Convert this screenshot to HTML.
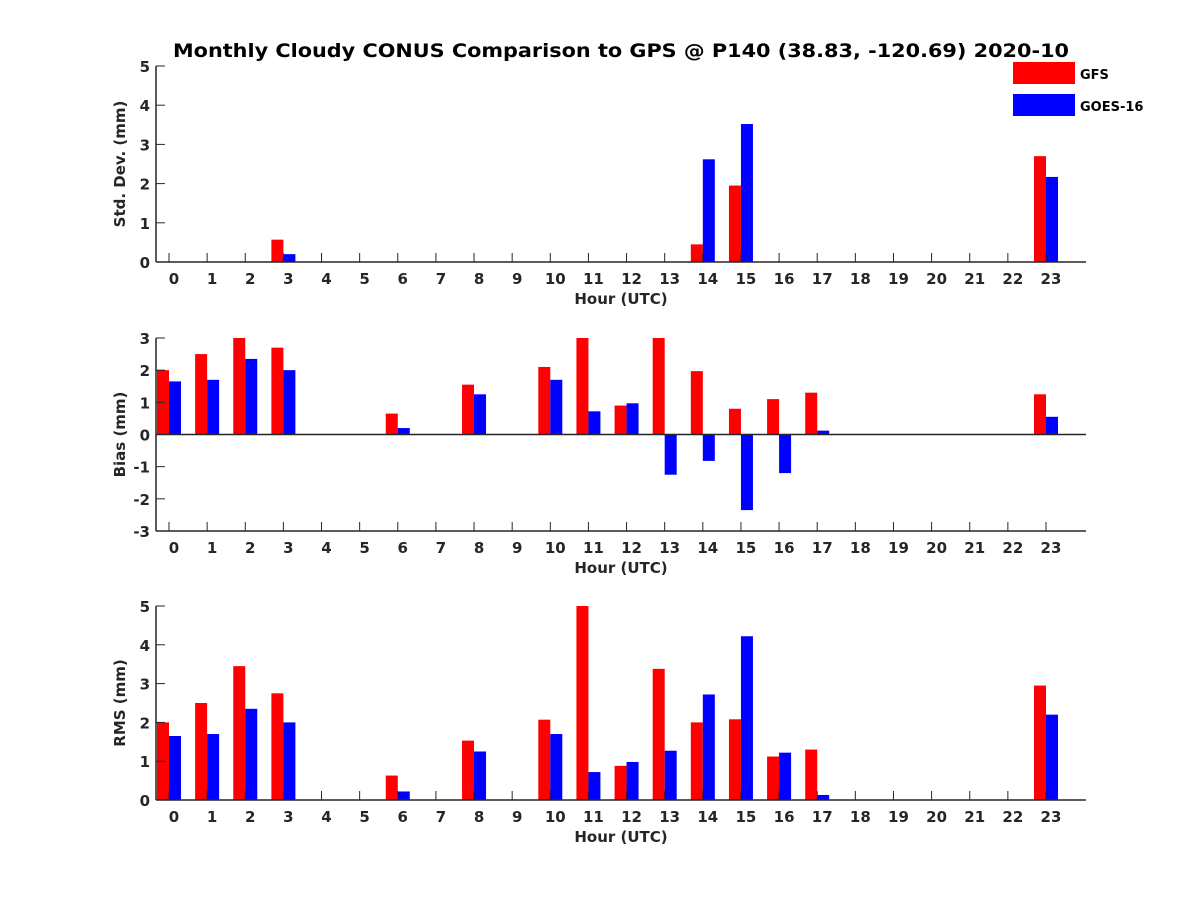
<!DOCTYPE html>
<html><head><meta charset="utf-8"><style>
body{margin:0;background:#fff}
svg text{font-family:"DejaVu Sans","Liberation Sans",sans-serif;font-weight:bold;fill:#262626}
</style></head><body>
<svg id="c" width="1200" height="900" xmlns="http://www.w3.org/2000/svg"></svg>
<script>
const hours=[...Array(24).keys()];
const stdGFS=[0,0,0,0.57,0,0,0,0,0,0,0,0,0,0,0.45,1.95,0,0,0,0,0,0,0,2.7];
const stdGOES=[0,0,0,0.2,0,0,0,0,0,0,0,0,0,0,2.62,3.52,0,0,0,0,0,0,0,2.17];
const biasGFS=[2.0,2.5,3.0,2.7,0,0,0.65,0,1.55,0,2.1,3.0,0.9,3.0,1.97,0.8,1.1,1.3,0,0,0,0,0,1.25];
const biasGOES=[1.65,1.7,2.35,2.0,0,0,0.2,0,1.25,0,1.7,0.72,0.97,-1.25,-0.82,-2.35,-1.2,0.12,0,0,0,0,0,0.55];
const rmsGFS=[2.0,2.5,3.45,2.75,0,0,0.63,0,1.53,0,2.07,5.0,0.88,3.38,2.0,2.08,1.12,1.3,0,0,0,0,0,2.95];
const rmsGOES=[1.65,1.7,2.35,2.0,0,0,0.22,0,1.25,0,1.7,0.72,0.98,1.27,2.72,4.22,1.22,0.13,0,0,0,0,0,2.2];
const stdTicks=[0,1,2,3,4,5], biasTicks=[-3,-2,-1,0,1,2,3], rmsTicks=[0,1,2,3,4,5];
const svg=document.getElementById('c');
const NS='http://www.w3.org/2000/svg';
function el(t,a,p){const e=document.createElementNS(NS,t);for(const k in a)e.setAttribute(k,a[k]);(p||svg).appendChild(e);return e;}
const X0=156,X1=1086;
const xc=h=>169+h*38.13;
function panel(name,top,bot,ymin,ymax,ticks,s1,s2,ylabel){
  const g=el('g',{});
  
  
  const y=v=>bot-(v-ymin)/(ymax-ymin)*(bot-top);
  hours.forEach(h=>{
    [[s1,'#ff0000',-12],[s2,'#0000ff',0]].forEach(([s,c,o],i)=>{
      const v=s[h]; if(!v) return;
      const r=el('rect',{x:xc(h)+o,y:Math.min(y(v),y(0)),width:12,height:Math.abs(y(v)-y(0)),fill:c},g);
      
      
    });
  });
  el('line',{x1:X0,y1:top,x2:X0,y2:bot,stroke:'#262626','stroke-width':1.5},g);
  el('line',{x1:X0,y1:bot,x2:X1,y2:bot,stroke:'#262626','stroke-width':1.5},g);
  if(ymin<0) el('line',{x1:X0,y1:y(0),x2:X1,y2:y(0),stroke:'#262626','stroke-width':1.5},g);
  ticks.forEach(t=>{
    el('line',{x1:X0,y1:y(t),x2:X0+9,y2:y(t),stroke:'#262626'},g);
    const tx=el('text',{x:X0-6,y:y(t)+6,'text-anchor':'end','font-size':15},g);tx.textContent=t;
  });
  hours.forEach(h=>{
    el('line',{x1:xc(h),y1:bot,x2:xc(h),y2:bot-9,stroke:'#262626'},g);
    const tx=el('text',{x:xc(h)+5,y:bot+22,'text-anchor':'middle','font-size':15},g);tx.textContent=h;
  });
  const xl=el('text',{x:621,y:bot+42,'text-anchor':'middle','font-size':15},g);xl.textContent='Hour (UTC)';
  
  const yl=el('text',{x:0,y:0,'text-anchor':'middle','font-size':15,transform:`translate(${X0-31},${(top+bot)/2}) rotate(-90)`},g);yl.textContent=ylabel;
  
}
panel('std',66,262,0,5,stdTicks,stdGFS,stdGOES,'Std. Dev. (mm)');
panel('bias',338,531,-3,3,biasTicks,biasGFS,biasGOES,'Bias (mm)');
panel('rms',606,800,0,5,rmsTicks,rmsGFS,rmsGOES,'RMS (mm)');
const ti=el('text',{x:173,y:57,'font-size':19,textLength:896,lengthAdjust:'spacingAndGlyphs',style:'fill:#000'});
ti.textContent='Monthly Cloudy CONUS Comparison to GPS @ P140 (38.83, -120.69) 2020-10';

[['GFS','#ff0000',62],['GOES-16','#0000ff',94]].forEach(([n,c,yy])=>{
  const g=el('g',{});
  
  
  el('rect',{x:1013,y:yy,width:62,height:22,fill:c},g);
  const t=el('text',{x:1080,y:yy+17,'font-size':13,style:'fill:#000'},g);t.textContent=n;
});
</script>
</body></html>
